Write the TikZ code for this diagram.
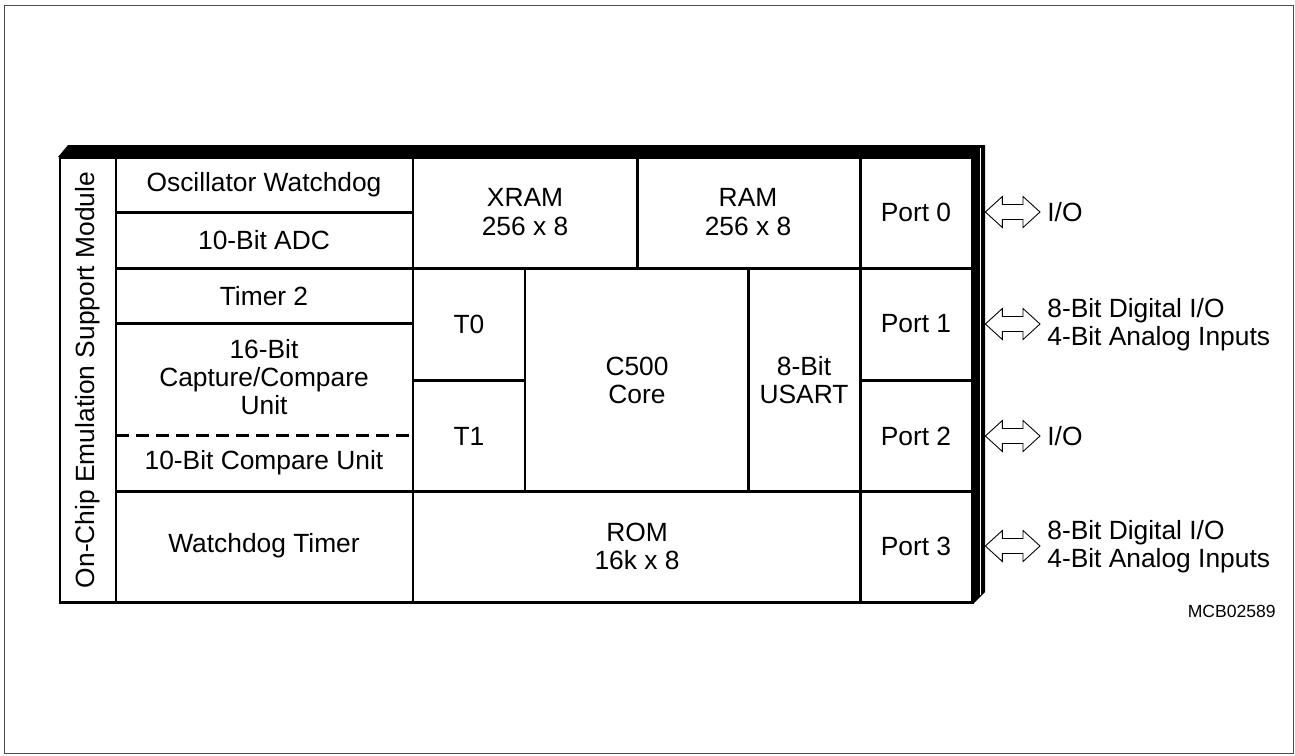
\documentclass[tikz,border=0pt]{standalone}
\usepackage{fontspec}
\setmainfont{Liberation Sans}
\usetikzlibrary{calc}

\tikzset{
  blk/.style={line width=1.7pt},
  txt/.style={font=\fontsize{15}{16}\selectfont, align=center, inner sep=0pt},
  port/.style={txt, minimum width=2.24cm},
  iolbl/.style={txt, align=left, anchor=west},
  ioarrow/.style={draw, line width=0.5pt, line join=miter,
    to path={-- ($(\tikztostart)+(17,-15.5)$) -- ($(\tikztostart)+(17,-7.5)$)
      -- ($(\tikztotarget)+(-17,-7.5)$) -- ($(\tikztotarget)+(-17,-15.5)$)
      -- (\tikztotarget) -- ($(\tikztotarget)+(-17,15.5)$)
      -- ($(\tikztotarget)+(-17,7.5)$) -- ($(\tikztostart)+(17,7.5)$)
      -- ($(\tikztostart)+(17,15.5)$) -- cycle}}
}

\begin{document}
\begin{tikzpicture}[x=0.02cm, y=-0.02cm]
\useasboundingbox (0,0) rectangle (1295,755);
\draw[black!70, line width=0.5pt] (4,5) rectangle (1293,753);

% shadow of the chip
\fill (58,157) -- (68,145) -- (985,145) -- (985,592) -- (974,603) -- (972,603) -- (972,157) -- cycle;
\draw[white, line width=0.4pt] (980,148) -- (980,595);

% grid
\draw[blk] (60,157) rectangle (972,602);
\foreach \x/\ya/\yb in {116/157/602, 413/157/602, 860/157/602, 637/157/268, 525/268/491, 748/268/491}
  \draw[blk] (\x,\ya) -- (\x,\yb);
\foreach \y/\xa/\xb in {268/116/972, 491/116/972, 212/116/413, 323/116/413, 380/413/525, 380/860/972}
  \draw[blk] (\xa,\y) -- (\xb,\y);
\draw[blk, dash pattern=on 0.26cm off 0.14cm] (116,435) -- (413,435);

% blocks
\node[txt, rotate=90] (ocds) at (88,380) {On-Chip Emulation Support Module};
\node[txt] (osc) at (264,185) {Oscillator Watchdog};
\node[txt] (adc) at (264,240) {10-Bit ADC};
\node[txt] (xram) at (525,212) {XRAM\\256 x 8};
\node[txt] (ram) at (748,212) {RAM\\256 x 8};
\node[txt] (tim2) at (264,296) {Timer 2};
\node[txt] (capcom) at (264,377) {16-Bit\\Capture/Compare\\Unit};
\node[txt] (cmp) at (264,463) {10-Bit Compare Unit};
\node[txt] (t0) at (469,324) {T0};
\node[txt] (t1) at (469,436) {T1};
\node[txt] (core) at (637,380) {C500\\Core};
\node[txt] (usart) at (804,380) {8-Bit\\USART};
\node[txt] (wdt) at (264,546) {Watchdog Timer};
\node[txt] (rom) at (637,546) {ROM\\16k x 8};
\foreach \i/\y in {0/212, 1/324, 2/436, 3/546}
  \node[port] (p\i) at (916,\y) {Port \i};

% port signals
\node[iolbl] (io0) at (1047,212) {I/O};
\node[iolbl] (io1) at (1047,325) {8-Bit Digital I/O\\4-Bit Analog Inputs};
\node[iolbl] (io2) at (1047,436) {I/O};
\node[iolbl] (io3) at (1047,547) {8-Bit Digital I/O\\4-Bit Analog Inputs};
\foreach \i in {0,...,3}{
  \coordinate (a\i) at ($(p\i.east)+(13,0)$);
  \coordinate (b\i) at ($(a\i -| io\i.west)+(-7,0)$);
  \draw[ioarrow] (a\i) to (b\i);
}

\node[txt, font=\fontsize{10}{12}\selectfont, anchor=east] (fig) at (1276,611) {MCB02589};
\end{tikzpicture}
\end{document}
